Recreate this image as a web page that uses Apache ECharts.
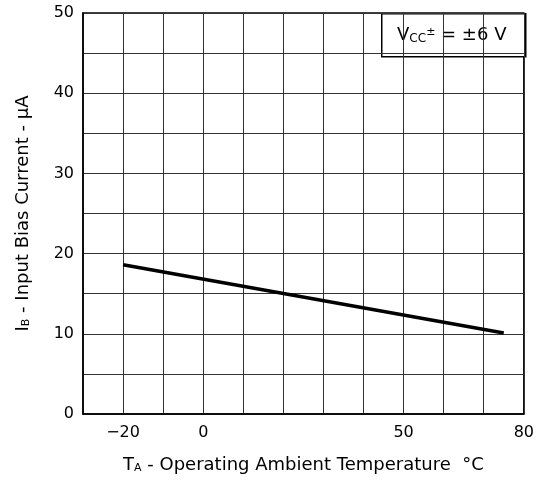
<!DOCTYPE html>
<html>
<head>
<meta charset="utf-8">
<script src="https://cdn.jsdelivr.net/npm/echarts@6/dist/echarts.min.js"></script>
<style>html,body{margin:0;padding:0;background:#fff}#c{width:537px;height:483px}</style>
</head>
<body>
<div id="c"></div>
<script>
var temperature = [-20, 75];
var biasCurrent = [18.6, 10.1];
var xTickLabels = [-20, 0, 50, 80];
var yTickLabels = [0, 10, 20, 30, 40, 50];

var FONT = '"DejaVu Sans", "Liberation Sans", Arial, sans-serif';
var chart = echarts.init(document.getElementById('c'));
chart.setOption({
  animation: false,
  backgroundColor: '#fff',
  grid: { left: 83, right: 11, top: 13, bottom: 69, show: true, borderColor: '#000', borderWidth: 1.5, backgroundColor: 'transparent' },
  xAxis: {
    type: 'value', min: -30, max: 80, interval: 10,
    axisLine: { show: true, onZero: false, lineStyle: { color: '#000', width: 1.5 } },
    axisTick: { show: false },
    splitLine: { show: true, lineStyle: { color: '#333', width: 1 } },
    axisLabel: {
      margin: 11, color: '#000', fontSize: 16, fontFamily: FONT,
      formatter: function (v) { return xTickLabels.indexOf(v) >= 0 ? (v < 0 ? '\u2212' + (-v) : String(v)) : ''; }
    },
    name: '{n|T}{s|A}{n| - Operating Ambient Temperature  \u00b0C}',
    nameLocation: 'middle', nameGap: 42,
    nameTextStyle: {
      rich: {
        n: { fontSize: 18, fontFamily: FONT, color: '#000' },
        s: { fontSize: 11, fontFamily: FONT, color: '#000', verticalAlign: 'bottom', padding: [4, 0, 0, 0] }
      }
    }
  },
  yAxis: {
    type: 'value', min: 0, max: 50, interval: 5,
    axisLine: { show: true, onZero: false, lineStyle: { color: '#000', width: 1.5 } },
    axisTick: { show: false },
    splitLine: { show: true, lineStyle: { color: '#333', width: 1 } },
    axisLabel: {
      margin: 9, color: '#000', fontSize: 16, fontFamily: FONT,
      formatter: function (v) { return yTickLabels.indexOf(v) >= 0 ? String(v) : ''; }
    },
    name: '{n|I}{s|B}{n| - Input Bias Current - \u03bcA}',
    nameLocation: 'middle', nameGap: 51, nameRotate: 90,
    nameTextStyle: {
      rich: {
        n: { fontSize: 18, fontFamily: FONT, color: '#000' },
        s: { fontSize: 11, fontFamily: FONT, color: '#000', verticalAlign: 'bottom', padding: [4, 0, 0, 0] }
      }
    }
  },
  series: [{
    type: 'line',
    data: temperature.map(function (t, i) { return [t, biasCurrent[i]]; }),
    symbol: 'none',
    lineStyle: { color: '#000', width: 3.5 }
  }],
  graphic: [{
    type: 'group', left: 381, top: 13,
    children: [
      { type: 'rect', shape: { x: 0, y: 0, width: 144, height: 43 },
        style: { fill: '#fff', stroke: '#000', lineWidth: 1.5 } },
      { type: 'text', x: 70, y: 22,
        style: {
          text: '{n|V}{s|CC}{p|\u00b1}{n| = \u00b16 V}',
          align: 'center', verticalAlign: 'middle',
          rich: {
            n: { fontSize: 18, fontFamily: FONT, fill: '#000' },
            s: { fontSize: 12, fontFamily: FONT, fill: '#000', verticalAlign: 'bottom', padding: [5, 0, 0, 0] },
            p: { fontSize: 11, fontFamily: FONT, fill: '#000', verticalAlign: 'top', padding: [0, 0, 6, 0] }
          }
        }
      }
    ]
  }]
});
</script>
</body>
</html>
